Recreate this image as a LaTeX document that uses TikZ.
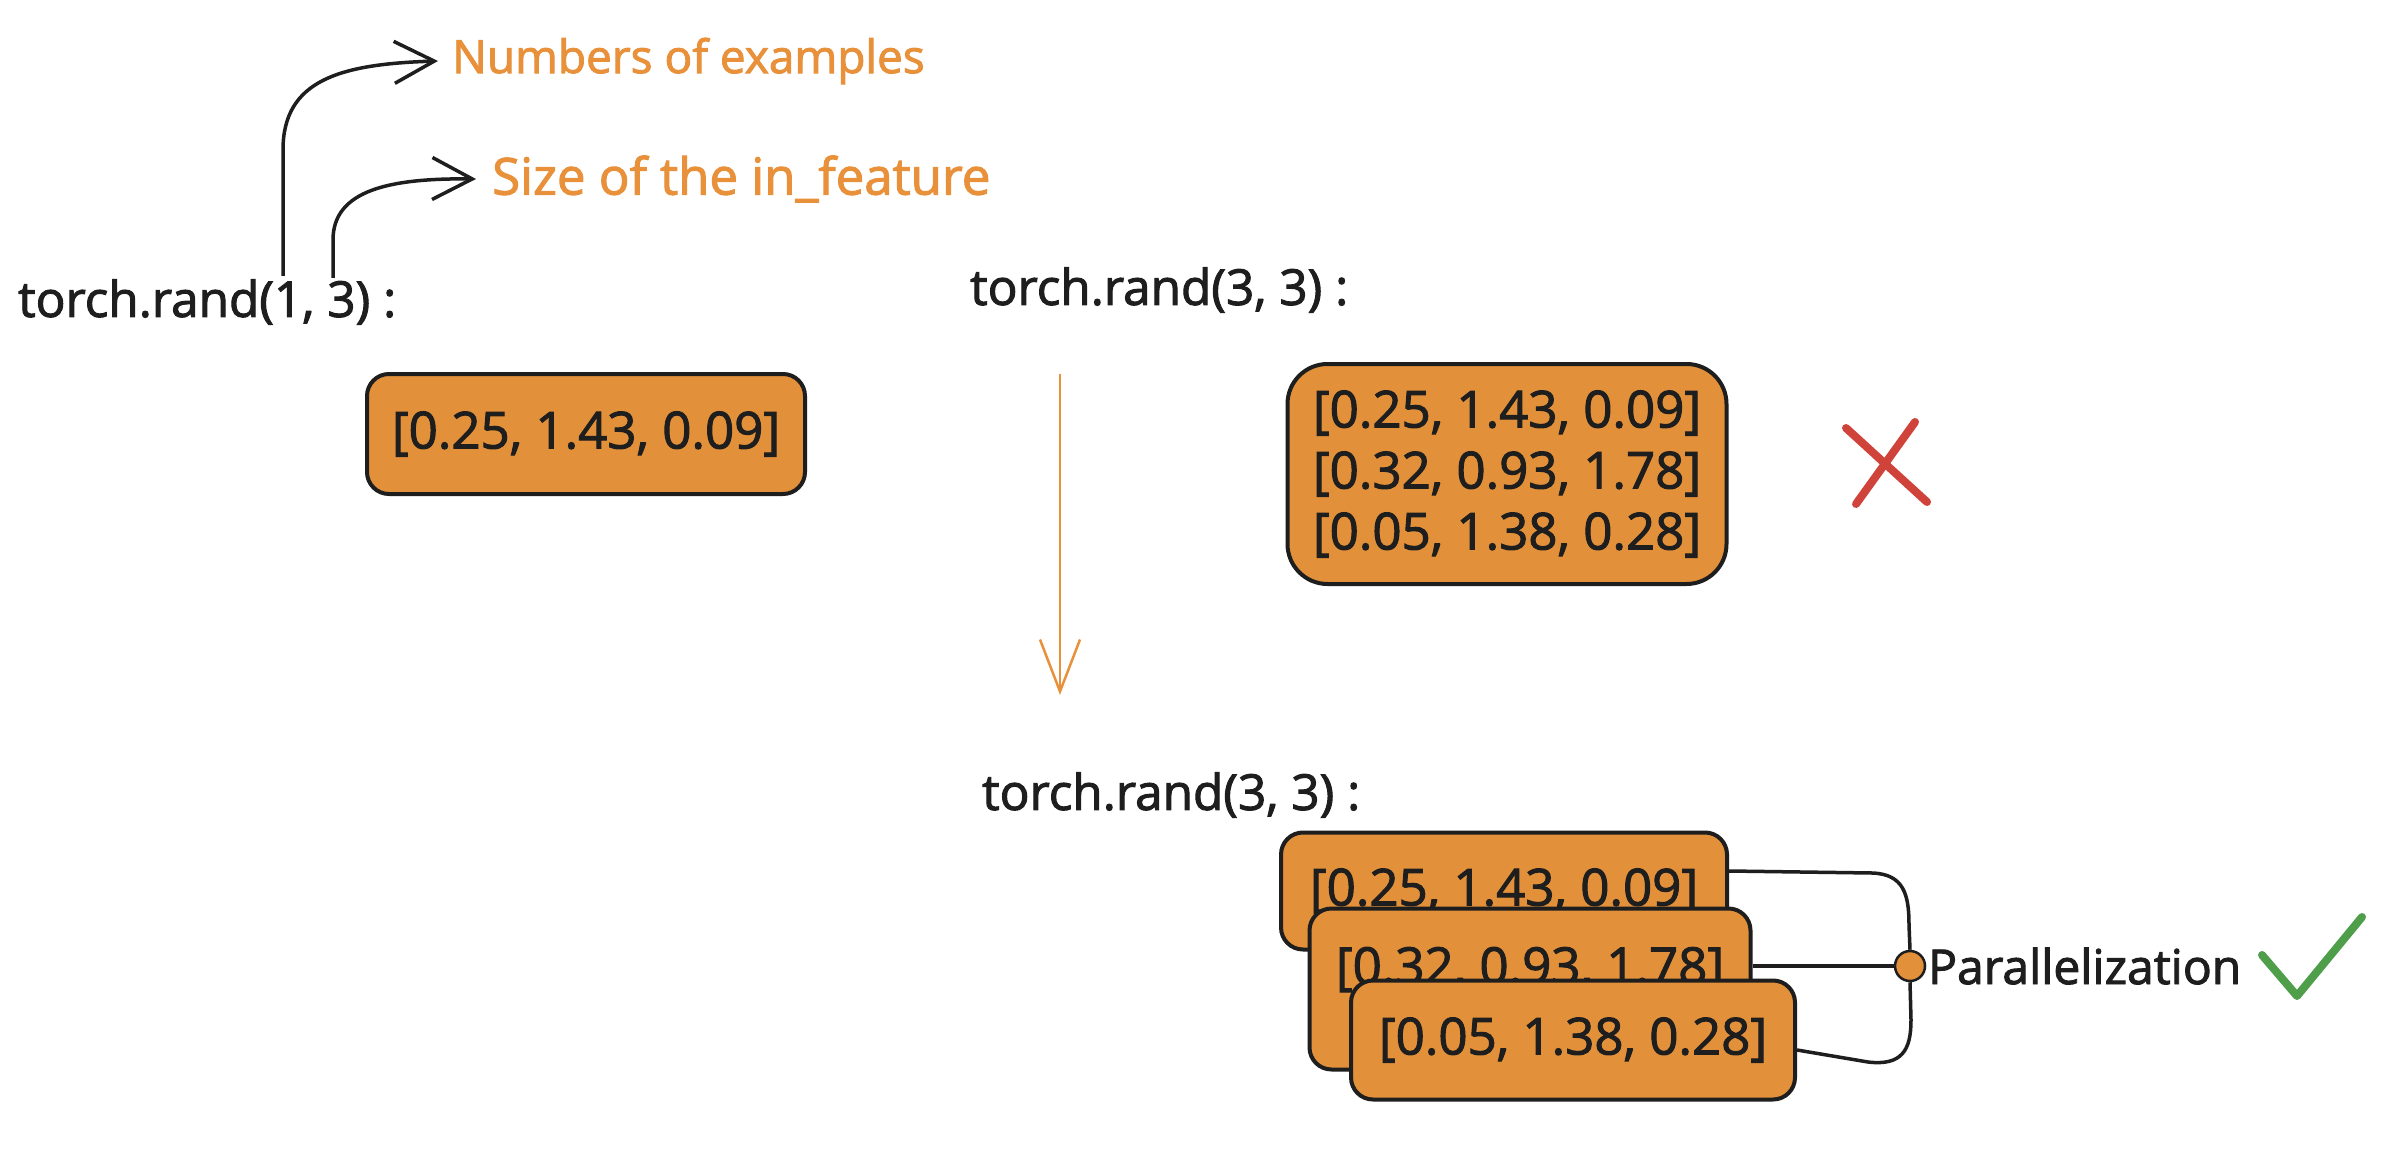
\documentclass[tikz,border=0pt]{standalone}
\usepackage{fontspec}
\setmainfont{Open Sans}
\newfontfamily\heavyfont{Open Sans}[FakeBold=2]
\usetikzlibrary{arrows.meta}
\definecolor{ink}{HTML}{1E1E1E}
\definecolor{orfill}{HTML}{E2913A}
\definecolor{ortext}{HTML}{E8913A}
\definecolor{xred}{HTML}{D0433A}
\definecolor{okgreen}{HTML}{4F9E4A}
\begin{document}
\begin{tikzpicture}[x=1pt,y=-1pt,
  codelabel/.style={font=\heavyfont\fontsize{49.5}{58}\selectfont, text=ink, inner sep=0pt, anchor=west},
  note/.style={font=\heavyfont\fontsize{46}{55}\selectfont, text=ortext, inner sep=0pt, anchor=west},
  vec/.style={draw=ink, line width=4pt, fill=orfill, rounded corners=22pt,
    font=\heavyfont\fontsize{51}{61}\selectfont, text=ink, inner sep=0pt, align=center},
  link/.style={draw=ink, line width=3.5pt},
  barb/.style={-{Straight Barb[length=40pt,width=42pt,line width=3.5pt]}},
  strokemark/.style={line width=8pt, line cap=round, line join=round}
]
\useasboundingbox (0,0) rectangle (2396,1158);
\fill[white] (0,0) rectangle (2396,1158);

% top-left example
\node[codelabel] (t1) at (18,302) {torch.rand(1, 3) :};
\node[note] (n1) at (452,61) {Numbers of examples};
\node[note, font=\heavyfont\fontsize{51}{60}\selectfont] (n2) at (492,179) {Size of the in\_feature};
\coordinate (a1s) at (283,276);
\coordinate (a2s) at (333,278);
\draw[link, barb] (a1s) -- (283,150) .. controls (283,80) and (340,64) .. ([xshift=-14pt]n1.west);
\draw[link, barb] (a2s) -- (333,240) .. controls (333,190) and (390,178) .. ([xshift=-16pt]n2.west);

\node[vec, minimum width=438pt, minimum height=120pt] (b1) at (586,434) {[0.25, 1.43, 0.09]};

% top-right example
\node[codelabel] (t2) at (970,290) {torch.rand(3, 3) :};
\node[vec, rounded corners=40pt, minimum width=439pt, minimum height=220pt] (b2) at (1507,474)
  {{[}0.25, 1.43, 0.09{]}\\{[}0.32, 0.93, 1.78{]}\\{[}0.05, 1.38, 0.28{]}};
\draw[xred, strokemark] (1846,428) -- (1927,502);
\draw[xred, strokemark] (1915,422) -- (1856,504);

% down arrow
\coordinate (ds) at (1060,374);
\coordinate (de) at (1060,695);
\draw[ortext, line width=2.5pt, -{Straight Barb[length=52pt,width=40pt,line width=2.5pt]}] (ds) -- (de);

% bottom example
\node[codelabel] (t3) at (982,795) {torch.rand(3, 3) :};
\node[vec, minimum width=446pt, minimum height=117pt] (bA) at (1504,891) {[0.25, 1.43, 0.09]};
\node[vec, minimum width=441pt, minimum height=161pt, text height=38pt, text depth=48pt] (bB) at (1530,989) {[0.32, 0.93, 1.78]};
\node[vec, minimum width=444pt, minimum height=119pt] (bC) at (1573,1040) {[0.05, 1.38, 0.28]};

\node[circle, draw=ink, line width=2.5pt, fill=orfill, minimum size=30pt, inner sep=0pt] (dot) at (1910,966) {};
\node[codelabel, anchor=west, font=\heavyfont\fontsize{48}{56}\selectfont] (par) at (1928,966) {Parallelization};

\draw[link] ([yshift=20pt]bA.east) -- (1872,873) .. controls (1904,874) and (1909,895) .. (1909,925) -- (dot.north);
\draw[link] (bB.east |- dot.west) -- (dot.west);
\draw[link] ([yshift=-10pt]bC.east) -- (1868,1062) .. controls (1902,1066) and (1911,1050) .. (1911,1020) -- (dot.south);

\draw[okgreen, strokemark] (2262,955) -- (2297,996) -- (2362,917);
\end{tikzpicture}
\end{document}
